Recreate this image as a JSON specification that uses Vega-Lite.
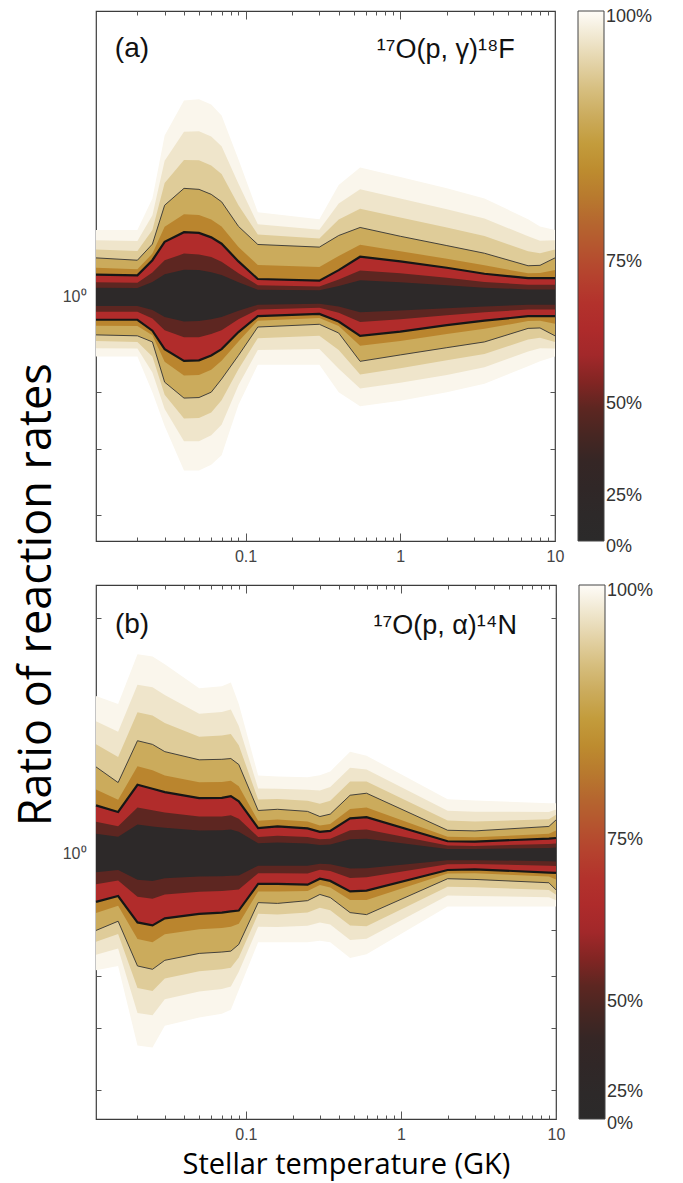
{
  "$schema": "https://vega.github.io/schema/vega-lite/v6.json",
  "background": "white",
  "padding": {"left": 14, "top": 9, "right": 5, "bottom": 5},
  "title": {"text": "Ratio of reaction rates", "orient": "left", "anchor": "middle", "font": "Open Sans", "fontSize": 45, "fontWeight": "normal", "color": "#000", "offset": 2},
  "config": {
    "view": {"stroke": "#3c3c3c", "strokeWidth": 1.2},
    "axis": {"grid": false, "domain": false, "labelFont": "Liberation Sans", "labelFontSize": 16, "labelColor": "#444", "tickColor": "#555", "tickWidth": 1, "labelFlush": false, "labelOverlap": false},
    "legend": {"labelFont": "Liberation Sans", "labelFontSize": 18, "labelColor": "#333", "labelOffset": 10}
  },
  "datasets": {
    "a": [
      {"T": 0.0108, "outer_hi": 1.17, "fade2_hi": 1.142, "fade1_hi": 1.118, "thin_hi": 1.096, "mid_hi": 1.071, "thick_hi": 1.054, "inner2_hi": 1.035, "inner1_hi": 1.022, "inner1_lo": 0.979, "inner2_lo": 0.966, "thick_lo": 0.948, "mid_lo": 0.935, "thin_lo": 0.915, "fade1_lo": 0.902, "fade2_lo": 0.887, "outer_lo": 0.87},
      {"T": 0.02, "outer_hi": 1.17, "fade2_hi": 1.14, "fade1_hi": 1.114, "thin_hi": 1.09, "mid_hi": 1.067, "thick_hi": 1.052, "inner2_hi": 1.034, "inner1_hi": 1.021, "inner1_lo": 0.979, "inner2_lo": 0.966, "thick_lo": 0.948, "mid_lo": 0.934, "thin_lo": 0.913, "fade1_lo": 0.9, "fade2_lo": 0.886, "outer_lo": 0.87},
      {"T": 0.025, "outer_hi": 1.26, "fade2_hi": 1.211, "fade1_hi": 1.17, "thin_hi": 1.132, "mid_hi": 1.107, "thick_hi": 1.09, "inner2_hi": 1.059, "inner1_hi": 1.036, "inner1_lo": 0.97, "inner2_lo": 0.951, "thick_lo": 0.924, "mid_lo": 0.914, "thin_lo": 0.9, "fade1_lo": 0.87, "fade2_lo": 0.838, "outer_lo": 0.8},
      {"T": 0.03, "outer_hi": 1.46, "fade2_hi": 1.376, "fade1_hi": 1.306, "thin_hi": 1.24, "mid_hi": 1.179, "thick_hi": 1.138, "inner2_hi": 1.09, "inner1_hi": 1.055, "inner1_lo": 0.954, "inner2_lo": 0.925, "thick_lo": 0.885, "mid_lo": 0.859, "thin_lo": 0.819, "fade1_lo": 0.795, "fade2_lo": 0.769, "outer_lo": 0.739},
      {"T": 0.04, "outer_hi": 1.585, "fade2_hi": 1.473, "fade1_hi": 1.379, "thin_hi": 1.29, "mid_hi": 1.214, "thick_hi": 1.164, "inner2_hi": 1.107, "inner1_hi": 1.066, "inner1_lo": 0.944, "inner2_lo": 0.91, "thick_lo": 0.861, "mid_lo": 0.832, "thin_lo": 0.789, "fade1_lo": 0.752, "fade2_lo": 0.713, "outer_lo": 0.666},
      {"T": 0.05, "outer_hi": 1.59, "fade2_hi": 1.475, "fade1_hi": 1.378, "thin_hi": 1.287, "mid_hi": 1.212, "thick_hi": 1.162, "inner2_hi": 1.105, "inner1_hi": 1.065, "inner1_lo": 0.945, "inner2_lo": 0.91, "thick_lo": 0.862, "mid_lo": 0.833, "thin_lo": 0.79, "fade1_lo": 0.753, "fade2_lo": 0.713, "outer_lo": 0.666},
      {"T": 0.06, "outer_hi": 1.57, "fade2_hi": 1.457, "fade1_hi": 1.361, "thin_hi": 1.272, "mid_hi": 1.199, "thick_hi": 1.15, "inner2_hi": 1.098, "inner1_hi": 1.06, "inner1_lo": 0.949, "inner2_lo": 0.917, "thick_lo": 0.872, "mid_lo": 0.843, "thin_lo": 0.8, "fade1_lo": 0.763, "fade2_lo": 0.723, "outer_lo": 0.675},
      {"T": 0.07, "outer_hi": 1.53, "fade2_hi": 1.424, "fade1_hi": 1.334, "thin_hi": 1.25, "mid_hi": 1.18, "thick_hi": 1.133, "inner2_hi": 1.086, "inner1_hi": 1.053, "inner1_lo": 0.954, "inner2_lo": 0.925, "thick_lo": 0.885, "mid_lo": 0.861, "thin_lo": 0.825, "fade1_lo": 0.785, "fade2_lo": 0.741, "outer_lo": 0.69},
      {"T": 0.09, "outer_hi": 1.38, "fade2_hi": 1.304, "fade1_hi": 1.24, "thin_hi": 1.18, "mid_hi": 1.124, "thick_hi": 1.087, "inner2_hi": 1.057, "inner1_hi": 1.035, "inner1_lo": 0.968, "inner2_lo": 0.949, "thick_lo": 0.921, "mid_lo": 0.901, "thin_lo": 0.872, "fade1_lo": 0.844, "fade2_lo": 0.813, "outer_lo": 0.777},
      {"T": 0.12, "outer_hi": 1.22, "fade2_hi": 1.186, "fade1_hi": 1.158, "thin_hi": 1.131, "mid_hi": 1.078, "thick_hi": 1.043, "inner2_hi": 1.028, "inner1_hi": 1.017, "inner1_lo": 0.982, "inner2_lo": 0.971, "thick_lo": 0.956, "mid_lo": 0.946, "thin_lo": 0.932, "fade1_lo": 0.908, "fade2_lo": 0.883, "outer_lo": 0.853},
      {"T": 0.3, "outer_hi": 1.2, "fade2_hi": 1.171, "fade1_hi": 1.147, "thin_hi": 1.124, "mid_hi": 1.073, "thick_hi": 1.039, "inner2_hi": 1.025, "inner1_hi": 1.016, "inner1_lo": 0.984, "inner2_lo": 0.975, "thick_lo": 0.961, "mid_lo": 0.952, "thin_lo": 0.938, "fade1_lo": 0.913, "fade2_lo": 0.885, "outer_lo": 0.853},
      {"T": 0.4, "outer_hi": 1.3, "fade2_hi": 1.245, "fade1_hi": 1.199, "thin_hi": 1.155, "mid_hi": 1.101, "thick_hi": 1.065, "inner2_hi": 1.042, "inner1_hi": 1.026, "inner1_lo": 0.978, "inner2_lo": 0.964, "thick_lo": 0.944, "mid_lo": 0.934, "thin_lo": 0.919, "fade1_lo": 0.883, "fade2_lo": 0.845, "outer_lo": 0.8},
      {"T": 0.55, "outer_hi": 1.355, "fade2_hi": 1.287, "fade1_hi": 1.23, "thin_hi": 1.177, "mid_hi": 1.13, "thick_hi": 1.099, "inner2_hi": 1.064, "inner1_hi": 1.04, "inner1_lo": 0.965, "inner2_lo": 0.943, "thick_lo": 0.913, "mid_lo": 0.892, "thin_lo": 0.86, "fade1_lo": 0.834, "fade2_lo": 0.807, "outer_lo": 0.774},
      {"T": 1, "outer_hi": 1.325, "fade2_hi": 1.26, "fade1_hi": 1.205, "thin_hi": 1.153, "mid_hi": 1.113, "thick_hi": 1.087, "inner2_hi": 1.057, "inner1_hi": 1.035, "inner1_lo": 0.969, "inner2_lo": 0.949, "thick_lo": 0.922, "mid_lo": 0.902, "thin_lo": 0.873, "fade1_lo": 0.846, "fade2_lo": 0.818, "outer_lo": 0.784},
      {"T": 2, "outer_hi": 1.29, "fade2_hi": 1.228, "fade1_hi": 1.177, "thin_hi": 1.128, "mid_hi": 1.094, "thick_hi": 1.071, "inner2_hi": 1.046, "inner1_hi": 1.028, "inner1_lo": 0.974, "inner2_lo": 0.958, "thick_lo": 0.936, "mid_lo": 0.917, "thin_lo": 0.888, "fade1_lo": 0.862, "fade2_lo": 0.833, "outer_lo": 0.8},
      {"T": 3.5, "outer_hi": 1.26, "fade2_hi": 1.202, "fade1_hi": 1.154, "thin_hi": 1.108, "mid_hi": 1.077, "thick_hi": 1.056, "inner2_hi": 1.036, "inner1_hi": 1.022, "inner1_lo": 0.978, "inner2_lo": 0.965, "thick_lo": 0.946, "mid_lo": 0.928, "thin_lo": 0.9, "fade1_lo": 0.875, "fade2_lo": 0.848, "outer_lo": 0.816},
      {"T": 6.7, "outer_hi": 1.2, "fade2_hi": 1.153, "fade1_hi": 1.113, "thin_hi": 1.076, "mid_hi": 1.057, "thick_hi": 1.045, "inner2_hi": 1.029, "inner1_hi": 1.018, "inner1_lo": 0.982, "inner2_lo": 0.971, "thick_lo": 0.956, "mid_lo": 0.945, "thin_lo": 0.929, "fade1_lo": 0.905, "fade2_lo": 0.88, "outer_lo": 0.85},
      {"T": 8, "outer_hi": 1.18, "fade2_hi": 1.141, "fade1_hi": 1.108, "thin_hi": 1.077, "mid_hi": 1.058, "thick_hi": 1.045, "inner2_hi": 1.029, "inner1_hi": 1.018, "inner1_lo": 0.982, "inner2_lo": 0.971, "thick_lo": 0.956, "mid_lo": 0.946, "thin_lo": 0.93, "fade1_lo": 0.909, "fade2_lo": 0.887, "outer_lo": 0.86},
      {"T": 10, "outer_hi": 1.17, "fade2_hi": 1.142, "fade1_hi": 1.118, "thin_hi": 1.096, "mid_hi": 1.065, "thick_hi": 1.045, "inner2_hi": 1.029, "inner1_hi": 1.018, "inner1_lo": 0.982, "inner2_lo": 0.971, "thick_lo": 0.956, "mid_lo": 0.939, "thin_lo": 0.913, "fade1_lo": 0.9, "fade2_lo": 0.886, "outer_lo": 0.87}
    ],
    "b": [
      {"T": 0.0108, "outer_hi": 1.589, "fade2_hi": 1.476, "fade1_hi": 1.38, "thin_hi": 1.291, "mid_hi": 1.208, "thick_hi": 1.153, "inner2_hi": 1.099, "inner1_hi": 1.061, "inner1_lo": 0.948, "inner2_lo": 0.915, "thick_lo": 0.869, "mid_lo": 0.841, "thin_lo": 0.799, "fade1_lo": 0.773, "fade2_lo": 0.744, "outer_lo": 0.711},
      {"T": 0.015, "outer_hi": 1.552, "fade2_hi": 1.431, "fade1_hi": 1.329, "thin_hi": 1.233, "mid_hi": 1.172, "thick_hi": 1.131, "inner2_hi": 1.085, "inner1_hi": 1.052, "inner1_lo": 0.954, "inner2_lo": 0.925, "thick_lo": 0.884, "mid_lo": 0.859, "thin_lo": 0.821, "fade1_lo": 0.791, "fade2_lo": 0.758, "outer_lo": 0.72},
      {"T": 0.02, "outer_hi": 1.796, "fade2_hi": 1.643, "fade1_hi": 1.515, "thin_hi": 1.394, "mid_hi": 1.293, "thick_hi": 1.225, "inner2_hi": 1.146, "inner1_hi": 1.09, "inner1_lo": 0.927, "inner2_lo": 0.882, "thick_lo": 0.818, "mid_lo": 0.779, "thin_lo": 0.72, "fade1_lo": 0.675, "fade2_lo": 0.627, "outer_lo": 0.57},
      {"T": 0.025, "outer_hi": 1.785, "fade2_hi": 1.631, "fade1_hi": 1.501, "thin_hi": 1.379, "mid_hi": 1.278, "thick_hi": 1.211, "inner2_hi": 1.137, "inner1_hi": 1.084, "inner1_lo": 0.924, "inner2_lo": 0.877, "thick_lo": 0.811, "mid_lo": 0.772, "thin_lo": 0.713, "fade1_lo": 0.669, "fade2_lo": 0.623, "outer_lo": 0.567},
      {"T": 0.03, "outer_hi": 1.744, "fade2_hi": 1.594, "fade1_hi": 1.468, "thin_hi": 1.35, "mid_hi": 1.259, "thick_hi": 1.199, "inner2_hi": 1.129, "inner1_hi": 1.08, "inner1_lo": 0.931, "inner2_lo": 0.888, "thick_lo": 0.828, "mid_lo": 0.79, "thin_lo": 0.732, "fade1_lo": 0.694, "fade2_lo": 0.653, "outer_lo": 0.604},
      {"T": 0.05, "outer_hi": 1.626, "fade2_hi": 1.509, "fade1_hi": 1.41, "thin_hi": 1.318, "mid_hi": 1.234, "thick_hi": 1.178, "inner2_hi": 1.116, "inner1_hi": 1.071, "inner1_lo": 0.936, "inner2_lo": 0.895, "thick_lo": 0.839, "mid_lo": 0.802, "thin_lo": 0.747, "fade1_lo": 0.709, "fade2_lo": 0.668, "outer_lo": 0.619},
      {"T": 0.07, "outer_hi": 1.636, "fade2_hi": 1.516, "fade1_hi": 1.415, "thin_hi": 1.32, "mid_hi": 1.235, "thick_hi": 1.179, "inner2_hi": 1.116, "inner1_hi": 1.072, "inner1_lo": 0.937, "inner2_lo": 0.897, "thick_lo": 0.842, "mid_lo": 0.805, "thin_lo": 0.75, "fade1_lo": 0.713, "fade2_lo": 0.673, "outer_lo": 0.626},
      {"T": 0.08, "outer_hi": 1.654, "fade2_hi": 1.528, "fade1_hi": 1.422, "thin_hi": 1.323, "mid_hi": 1.24, "thick_hi": 1.185, "inner2_hi": 1.12, "inner1_hi": 1.074, "inner1_lo": 0.938, "inner2_lo": 0.899, "thick_lo": 0.845, "mid_lo": 0.808, "thin_lo": 0.752, "fade1_lo": 0.716, "fade2_lo": 0.678, "outer_lo": 0.633},
      {"T": 0.09, "outer_hi": 1.552, "fade2_hi": 1.456, "fade1_hi": 1.376, "thin_hi": 1.3, "mid_hi": 1.22, "thick_hi": 1.167, "inner2_hi": 1.109, "inner1_hi": 1.067, "inner1_lo": 0.939, "inner2_lo": 0.901, "thick_lo": 0.847, "mid_lo": 0.815, "thin_lo": 0.767, "fade1_lo": 0.738, "fade2_lo": 0.708, "outer_lo": 0.671},
      {"T": 0.12, "outer_hi": 1.259, "fade2_hi": 1.212, "fade1_hi": 1.173, "thin_hi": 1.136, "mid_hi": 1.102, "thick_hi": 1.079, "inner2_hi": 1.051, "inner1_hi": 1.032, "inner1_lo": 0.966, "inner2_lo": 0.945, "thick_lo": 0.916, "mid_lo": 0.896, "thin_lo": 0.867, "fade1_lo": 0.839, "fade2_lo": 0.808, "outer_lo": 0.772},
      {"T": 0.16, "outer_hi": 1.255, "fade2_hi": 1.211, "fade1_hi": 1.175, "thin_hi": 1.14, "mid_hi": 1.106, "thick_hi": 1.084, "inner2_hi": 1.055, "inner1_hi": 1.034, "inner1_lo": 0.966, "inner2_lo": 0.945, "thick_lo": 0.916, "mid_lo": 0.896, "thin_lo": 0.865, "fade1_lo": 0.837, "fade2_lo": 0.807, "outer_lo": 0.772},
      {"T": 0.25, "outer_hi": 1.252, "fade2_hi": 1.207, "fade1_hi": 1.169, "thin_hi": 1.133, "mid_hi": 1.1, "thick_hi": 1.078, "inner2_hi": 1.051, "inner1_hi": 1.031, "inner1_lo": 0.966, "inner2_lo": 0.944, "thick_lo": 0.914, "mid_lo": 0.897, "thin_lo": 0.872, "fade1_lo": 0.842, "fade2_lo": 0.81, "outer_lo": 0.772},
      {"T": 0.3, "outer_hi": 1.26, "fade2_hi": 1.205, "fade1_hi": 1.159, "thin_hi": 1.116, "mid_hi": 1.087, "thick_hi": 1.067, "inner2_hi": 1.044, "inner1_hi": 1.027, "inner1_lo": 0.972, "inner2_lo": 0.955, "thick_lo": 0.93, "mid_lo": 0.913, "thin_lo": 0.888, "fade1_lo": 0.854, "fade2_lo": 0.818, "outer_lo": 0.775},
      {"T": 0.35, "outer_hi": 1.274, "fade2_hi": 1.217, "fade1_hi": 1.169, "thin_hi": 1.124, "mid_hi": 1.092, "thick_hi": 1.07, "inner2_hi": 1.046, "inner1_hi": 1.028, "inner1_lo": 0.97, "inner2_lo": 0.951, "thick_lo": 0.924, "mid_lo": 0.906, "thin_lo": 0.88, "fade1_lo": 0.848, "fade2_lo": 0.813, "outer_lo": 0.772},
      {"T": 0.47, "outer_hi": 1.35, "fade2_hi": 1.288, "fade1_hi": 1.237, "thin_hi": 1.188, "mid_hi": 1.141, "thick_hi": 1.11, "inner2_hi": 1.072, "inner1_hi": 1.044, "inner1_lo": 0.958, "inner2_lo": 0.932, "thick_lo": 0.896, "mid_lo": 0.874, "thin_lo": 0.842, "fade1_lo": 0.811, "fade2_lo": 0.777, "outer_lo": 0.737},
      {"T": 0.6, "outer_hi": 1.334, "fade2_hi": 1.281, "fade1_hi": 1.237, "thin_hi": 1.195, "mid_hi": 1.146, "thick_hi": 1.114, "inner2_hi": 1.074, "inner1_hi": 1.046, "inner1_lo": 0.959, "inner2_lo": 0.934, "thick_lo": 0.898, "mid_lo": 0.874, "thin_lo": 0.837, "fade1_lo": 0.809, "fade2_lo": 0.78, "outer_lo": 0.745},
      {"T": 2, "outer_hi": 1.174, "fade2_hi": 1.135, "fade1_hi": 1.103, "thin_hi": 1.072, "mid_hi": 1.052, "thick_hi": 1.038, "inner2_hi": 1.025, "inner1_hi": 1.015, "inner1_lo": 0.982, "inner2_lo": 0.97, "thick_lo": 0.954, "mid_lo": 0.944, "thin_lo": 0.93, "fade1_lo": 0.908, "fade2_lo": 0.885, "outer_lo": 0.857},
      {"T": 3, "outer_hi": 1.17, "fade2_hi": 1.132, "fade1_hi": 1.1, "thin_hi": 1.07, "mid_hi": 1.05, "thick_hi": 1.037, "inner2_hi": 1.024, "inner1_hi": 1.015, "inner1_lo": 0.982, "inner2_lo": 0.971, "thick_lo": 0.956, "mid_lo": 0.945, "thin_lo": 0.928, "fade1_lo": 0.907, "fade2_lo": 0.884, "outer_lo": 0.857},
      {"T": 9, "outer_hi": 1.16, "fade2_hi": 1.131, "fade1_hi": 1.107, "thin_hi": 1.084, "mid_hi": 1.061, "thick_hi": 1.046, "inner2_hi": 1.03, "inner1_hi": 1.018, "inner1_lo": 0.979, "inner2_lo": 0.966, "thick_lo": 0.947, "mid_lo": 0.936, "thin_lo": 0.919, "fade1_lo": 0.9, "fade2_lo": 0.881, "outer_lo": 0.857},
      {"T": 10, "outer_hi": 1.16, "fade2_hi": 1.139, "fade1_hi": 1.122, "thin_hi": 1.105, "mid_hi": 1.071, "thick_hi": 1.048, "inner2_hi": 1.031, "inner1_hi": 1.019, "inner1_lo": 0.978, "inner2_lo": 0.965, "thick_lo": 0.946, "mid_lo": 0.928, "thin_lo": 0.9, "fade1_lo": 0.887, "fade2_lo": 0.873, "outer_lo": 0.857}
    ]
  },
  "spacing": 14,
  "resolve": {"scale": {"color": "independent"}},
  "vconcat": [
    {
      "width": 459,
      "height": 530,
      "data": {"name": "a"},
      "resolve": {"axis": {"x": "independent", "y": "independent"}},
      "layer": [
        {"mark": {"type": "area"}, "encoding": {
          "x": {"field": "T", "type": "quantitative", "scale": {"type": "log", "domain": [0.0108, 10], "nice": false},
            "axis": {"orient": "bottom", "title": null, "values": [0.02,0.03,0.04,0.05,0.06,0.07,0.08,0.09,0.1,0.2,0.3,0.4,0.5,0.6,0.7,0.8,0.9,1,2,3,4,5,6,7,8,9,10],
              "labelExpr": "datum.value == 0.1 ? '0.1' : datum.value == 1 ? '1' : datum.value == 10 ? '10' : ''",
              "tickSize": {"condition": {"test": "datum.value == 0.1 || datum.value == 1 || datum.value == 10", "value": -8}, "value": -4}, "labelPadding": 15}},
          "y": {"field": "outer_hi", "type": "quantitative", "scale": {"type": "log", "domain": [0.5644, 1.955], "nice": false},
            "axis": {"orient": "left", "title": null, "values": [0.5,0.6,0.7,0.8,0.9,1,2], "labelExpr": "datum.value == 1 ? '10⁰' : ''",
              "tickSize": {"condition": {"test": "datum.value == 1", "value": -8}, "value": -5}, "labelPadding": 18}},
          "y2": {"field": "outer_lo"},
          "color": {"datum": 0.985, "type": "quantitative",
            "scale": {"type": "linear", "domain": [0,0.08,0.15,0.24,0.3,0.36,0.43,0.51,0.59,0.66,0.73,0.8,0.87,0.93,1], "range": ["#2b2a2a","#2e2828","#352625","#562620","#822523","#a8292b","#b22c2b","#b5452e","#b5622f","#b87e2e","#c0962f","#cbab5c","#dbc58c","#ebdfbf","#fefcf8"], "interpolate": "rgb"},
            "legend": {"type": "gradient", "title": null, "direction": "vertical", "values": [-0.029, 0.085, 0.258, 0.526, 1.006],
              "labelExpr": "datum.value < 0.01 ? '0%' : datum.value < 0.1 ? '25%' : datum.value < 0.3 ? '50%' : datum.value < 0.6 ? '75%' : '100%'",
              "gradientLength": 530, "gradientThickness": 26, "offset": 22, "labelOverlap": false, "labelBaseline": "middle", "gradientStrokeColor": "#444", "gradientStrokeWidth": 1}}
        }},
        {"mark": {"type": "area"}, "encoding": {"x": {"field": "T", "type": "quantitative", "axis": null}, "y": {"field": "fade2_hi", "type": "quantitative", "axis": null}, "y2": {"field": "fade2_lo"}, "color": {"datum": 0.945, "type": "quantitative"}}},
        {"mark": {"type": "area"}, "encoding": {"x": {"field": "T", "type": "quantitative", "axis": null}, "y": {"field": "fade1_hi", "type": "quantitative", "axis": null}, "y2": {"field": "fade1_lo"}, "color": {"datum": 0.885, "type": "quantitative"}}},
        {"mark": {"type": "area"}, "encoding": {"x": {"field": "T", "type": "quantitative", "axis": null}, "y": {"field": "thin_hi", "type": "quantitative", "axis": null}, "y2": {"field": "thin_lo"}, "color": {"datum": 0.8, "type": "quantitative"}}},
        {"mark": {"type": "area"}, "encoding": {"x": {"field": "T", "type": "quantitative", "axis": null}, "y": {"field": "mid_hi", "type": "quantitative", "axis": null}, "y2": {"field": "mid_lo"}, "color": {"datum": 0.68, "type": "quantitative"}}},
        {"mark": {"type": "area"}, "encoding": {"x": {"field": "T", "type": "quantitative", "axis": null}, "y": {"field": "thick_hi", "type": "quantitative", "axis": null}, "y2": {"field": "thick_lo"}, "color": {"datum": 0.42, "type": "quantitative"}}},
        {"mark": {"type": "area"}, "encoding": {"x": {"field": "T", "type": "quantitative", "axis": null}, "y": {"field": "inner2_hi", "type": "quantitative", "axis": null}, "y2": {"field": "inner2_lo"}, "color": {"datum": 0.25, "type": "quantitative"}}},
        {"mark": {"type": "area"}, "encoding": {"x": {"field": "T", "type": "quantitative", "axis": null}, "y": {"field": "inner1_hi", "type": "quantitative", "axis": null}, "y2": {"field": "inner1_lo"}, "color": {"datum": 0.04, "type": "quantitative"}}},
        {"mark": {"type": "line", "color": "#333", "strokeWidth": 0.9}, "encoding": {
          "x": {"field": "T", "type": "quantitative", "axis": {"orient": "top", "title": null, "labels": false, "values": [0.02,0.03,0.04,0.05,0.06,0.07,0.08,0.09,0.1,0.2,0.3,0.4,0.5,0.6,0.7,0.8,0.9,1,2,3,4,5,6,7,8,9,10],
            "tickSize": {"condition": {"test": "datum.value == 0.1 || datum.value == 1 || datum.value == 10", "value": -8}, "value": -4}}},
          "y": {"field": "thin_hi", "type": "quantitative", "axis": {"orient": "right", "title": null, "labels": false, "values": [0.5,0.6,0.7,0.8,0.9,1,2],
            "tickSize": {"condition": {"test": "datum.value == 1", "value": -8}, "value": -5}}}}},
        {"mark": {"type": "line", "color": "#333", "strokeWidth": 0.9}, "encoding": {"x": {"field": "T", "type": "quantitative", "axis": null}, "y": {"field": "thin_lo", "type": "quantitative", "axis": null}}},
        {"mark": {"type": "line", "color": "#161616", "strokeWidth": 2.2}, "encoding": {"x": {"field": "T", "type": "quantitative", "axis": null}, "y": {"field": "thick_hi", "type": "quantitative", "axis": null}}},
        {"mark": {"type": "line", "color": "#161616", "strokeWidth": 2.2}, "encoding": {"x": {"field": "T", "type": "quantitative", "axis": null}, "y": {"field": "thick_lo", "type": "quantitative", "axis": null}}},
        {"data": {"values": [{"label": "(a)"}]}, "mark": {"type": "text", "align": "left", "baseline": "middle", "font": "Liberation Sans", "fontSize": 28, "fill": "#111"},
          "encoding": {"x": {"datum": 0.0143, "type": "quantitative", "axis": null}, "y": {"datum": 1.79, "type": "quantitative", "axis": null}, "text": {"field": "label", "type": "nominal"}}},
        {"data": {"values": [{"label": "¹⁷O(p, γ)¹⁸F"}]}, "mark": {"type": "text", "align": "right", "baseline": "middle", "font": "Liberation Sans", "fontSize": 27, "fill": "#111"},
          "encoding": {"x": {"datum": 5.5, "type": "quantitative", "axis": null}, "y": {"datum": 1.785, "type": "quantitative", "axis": null}, "text": {"field": "label", "type": "nominal"}}}
      ]
    },
    {
      "width": 460,
      "height": 534,
      "data": {"name": "b"},
      "resolve": {"axis": {"x": "independent", "y": "independent"}},
      "layer": [
        {"mark": {"type": "area"}, "encoding": {
          "x": {"field": "T", "type": "quantitative", "scale": {"type": "log", "domain": [0.0108, 10], "nice": false},
            "axis": {"orient": "bottom", "title": "Stellar temperature (GK)", "titleFont": "Open Sans", "titleFontSize": 29, "titleFontWeight": "normal", "titleColor": "#000", "titlePadding": 4, "titleX": 250, "titleAlign": "center",
              "values": [0.02,0.03,0.04,0.05,0.06,0.07,0.08,0.09,0.1,0.2,0.3,0.4,0.5,0.6,0.7,0.8,0.9,1,2,3,4,5,6,7,8,9,10],
              "labelExpr": "datum.value == 0.1 ? '0.1' : datum.value == 1 ? '1' : datum.value == 10 ? '10' : ''",
              "tickSize": {"condition": {"test": "datum.value == 0.1 || datum.value == 1 || datum.value == 10", "value": -8}, "value": -4}, "labelPadding": 15}},
          "y": {"field": "outer_hi", "type": "quantitative", "scale": {"type": "log", "domain": [0.4596, 2.201], "nice": false},
            "axis": {"orient": "left", "title": null, "values": [0.5,0.6,0.7,0.8,0.9,1,2], "labelExpr": "datum.value == 1 ? '10⁰' : ''",
              "tickSize": {"condition": {"test": "datum.value == 1", "value": -8}, "value": -5}, "labelPadding": 18}},
          "y2": {"field": "outer_lo"},
          "color": {"datum": 0.985, "type": "quantitative",
            "scale": {"type": "linear", "domain": [0,0.08,0.15,0.24,0.3,0.36,0.43,0.51,0.59,0.66,0.73,0.8,0.87,0.93,1], "range": ["#2b2a2a","#2e2828","#352625","#562620","#822523","#a8292b","#b22c2b","#b5452e","#b5622f","#b87e2e","#c0962f","#cbab5c","#dbc58c","#ebdfbf","#fefcf8"], "interpolate": "rgb"},
            "legend": {"type": "gradient", "title": null, "direction": "vertical", "values": [-0.026, 0.05, 0.22, 0.522, 1.006],
              "labelExpr": "datum.value < 0.01 ? '0%' : datum.value < 0.1 ? '25%' : datum.value < 0.3 ? '50%' : datum.value < 0.6 ? '75%' : '100%'",
              "gradientLength": 534, "gradientThickness": 26, "offset": 22, "labelOverlap": false, "labelBaseline": "middle", "gradientStrokeColor": "#444", "gradientStrokeWidth": 1}}
        }},
        {"mark": {"type": "area"}, "encoding": {"x": {"field": "T", "type": "quantitative", "axis": null}, "y": {"field": "fade2_hi", "type": "quantitative", "axis": null}, "y2": {"field": "fade2_lo"}, "color": {"datum": 0.945, "type": "quantitative"}}},
        {"mark": {"type": "area"}, "encoding": {"x": {"field": "T", "type": "quantitative", "axis": null}, "y": {"field": "fade1_hi", "type": "quantitative", "axis": null}, "y2": {"field": "fade1_lo"}, "color": {"datum": 0.885, "type": "quantitative"}}},
        {"mark": {"type": "area"}, "encoding": {"x": {"field": "T", "type": "quantitative", "axis": null}, "y": {"field": "thin_hi", "type": "quantitative", "axis": null}, "y2": {"field": "thin_lo"}, "color": {"datum": 0.8, "type": "quantitative"}}},
        {"mark": {"type": "area"}, "encoding": {"x": {"field": "T", "type": "quantitative", "axis": null}, "y": {"field": "mid_hi", "type": "quantitative", "axis": null}, "y2": {"field": "mid_lo"}, "color": {"datum": 0.68, "type": "quantitative"}}},
        {"mark": {"type": "area"}, "encoding": {"x": {"field": "T", "type": "quantitative", "axis": null}, "y": {"field": "thick_hi", "type": "quantitative", "axis": null}, "y2": {"field": "thick_lo"}, "color": {"datum": 0.42, "type": "quantitative"}}},
        {"mark": {"type": "area"}, "encoding": {"x": {"field": "T", "type": "quantitative", "axis": null}, "y": {"field": "inner2_hi", "type": "quantitative", "axis": null}, "y2": {"field": "inner2_lo"}, "color": {"datum": 0.25, "type": "quantitative"}}},
        {"mark": {"type": "area"}, "encoding": {"x": {"field": "T", "type": "quantitative", "axis": null}, "y": {"field": "inner1_hi", "type": "quantitative", "axis": null}, "y2": {"field": "inner1_lo"}, "color": {"datum": 0.04, "type": "quantitative"}}},
        {"mark": {"type": "line", "color": "#333", "strokeWidth": 0.9}, "encoding": {
          "x": {"field": "T", "type": "quantitative", "axis": {"orient": "top", "title": null, "labels": false, "values": [0.02,0.03,0.04,0.05,0.06,0.07,0.08,0.09,0.1,0.2,0.3,0.4,0.5,0.6,0.7,0.8,0.9,1,2,3,4,5,6,7,8,9,10],
            "tickSize": {"condition": {"test": "datum.value == 0.1 || datum.value == 1 || datum.value == 10", "value": -8}, "value": -4}}},
          "y": {"field": "thin_hi", "type": "quantitative", "axis": {"orient": "right", "title": null, "labels": false, "values": [0.5,0.6,0.7,0.8,0.9,1,2],
            "tickSize": {"condition": {"test": "datum.value == 1", "value": -8}, "value": -5}}}}},
        {"mark": {"type": "line", "color": "#333", "strokeWidth": 0.9}, "encoding": {"x": {"field": "T", "type": "quantitative", "axis": null}, "y": {"field": "thin_lo", "type": "quantitative", "axis": null}}},
        {"mark": {"type": "line", "color": "#161616", "strokeWidth": 2.2}, "encoding": {"x": {"field": "T", "type": "quantitative", "axis": null}, "y": {"field": "thick_hi", "type": "quantitative", "axis": null}}},
        {"mark": {"type": "line", "color": "#161616", "strokeWidth": 2.2}, "encoding": {"x": {"field": "T", "type": "quantitative", "axis": null}, "y": {"field": "thick_lo", "type": "quantitative", "axis": null}}},
        {"data": {"values": [{"label": "(b)"}]}, "mark": {"type": "text", "align": "left", "baseline": "middle", "font": "Liberation Sans", "fontSize": 28, "fill": "#111"},
          "encoding": {"x": {"datum": 0.0143, "type": "quantitative", "axis": null}, "y": {"datum": 1.96, "type": "quantitative", "axis": null}, "text": {"field": "label", "type": "nominal"}}},
        {"data": {"values": [{"label": "¹⁷O(p, α)¹⁴N"}]}, "mark": {"type": "text", "align": "right", "baseline": "middle", "font": "Liberation Sans", "fontSize": 27, "fill": "#111"},
          "encoding": {"x": {"datum": 5.6, "type": "quantitative", "axis": null}, "y": {"datum": 1.95, "type": "quantitative", "axis": null}, "text": {"field": "label", "type": "nominal"}}}
      ]
    }
  ]
}
